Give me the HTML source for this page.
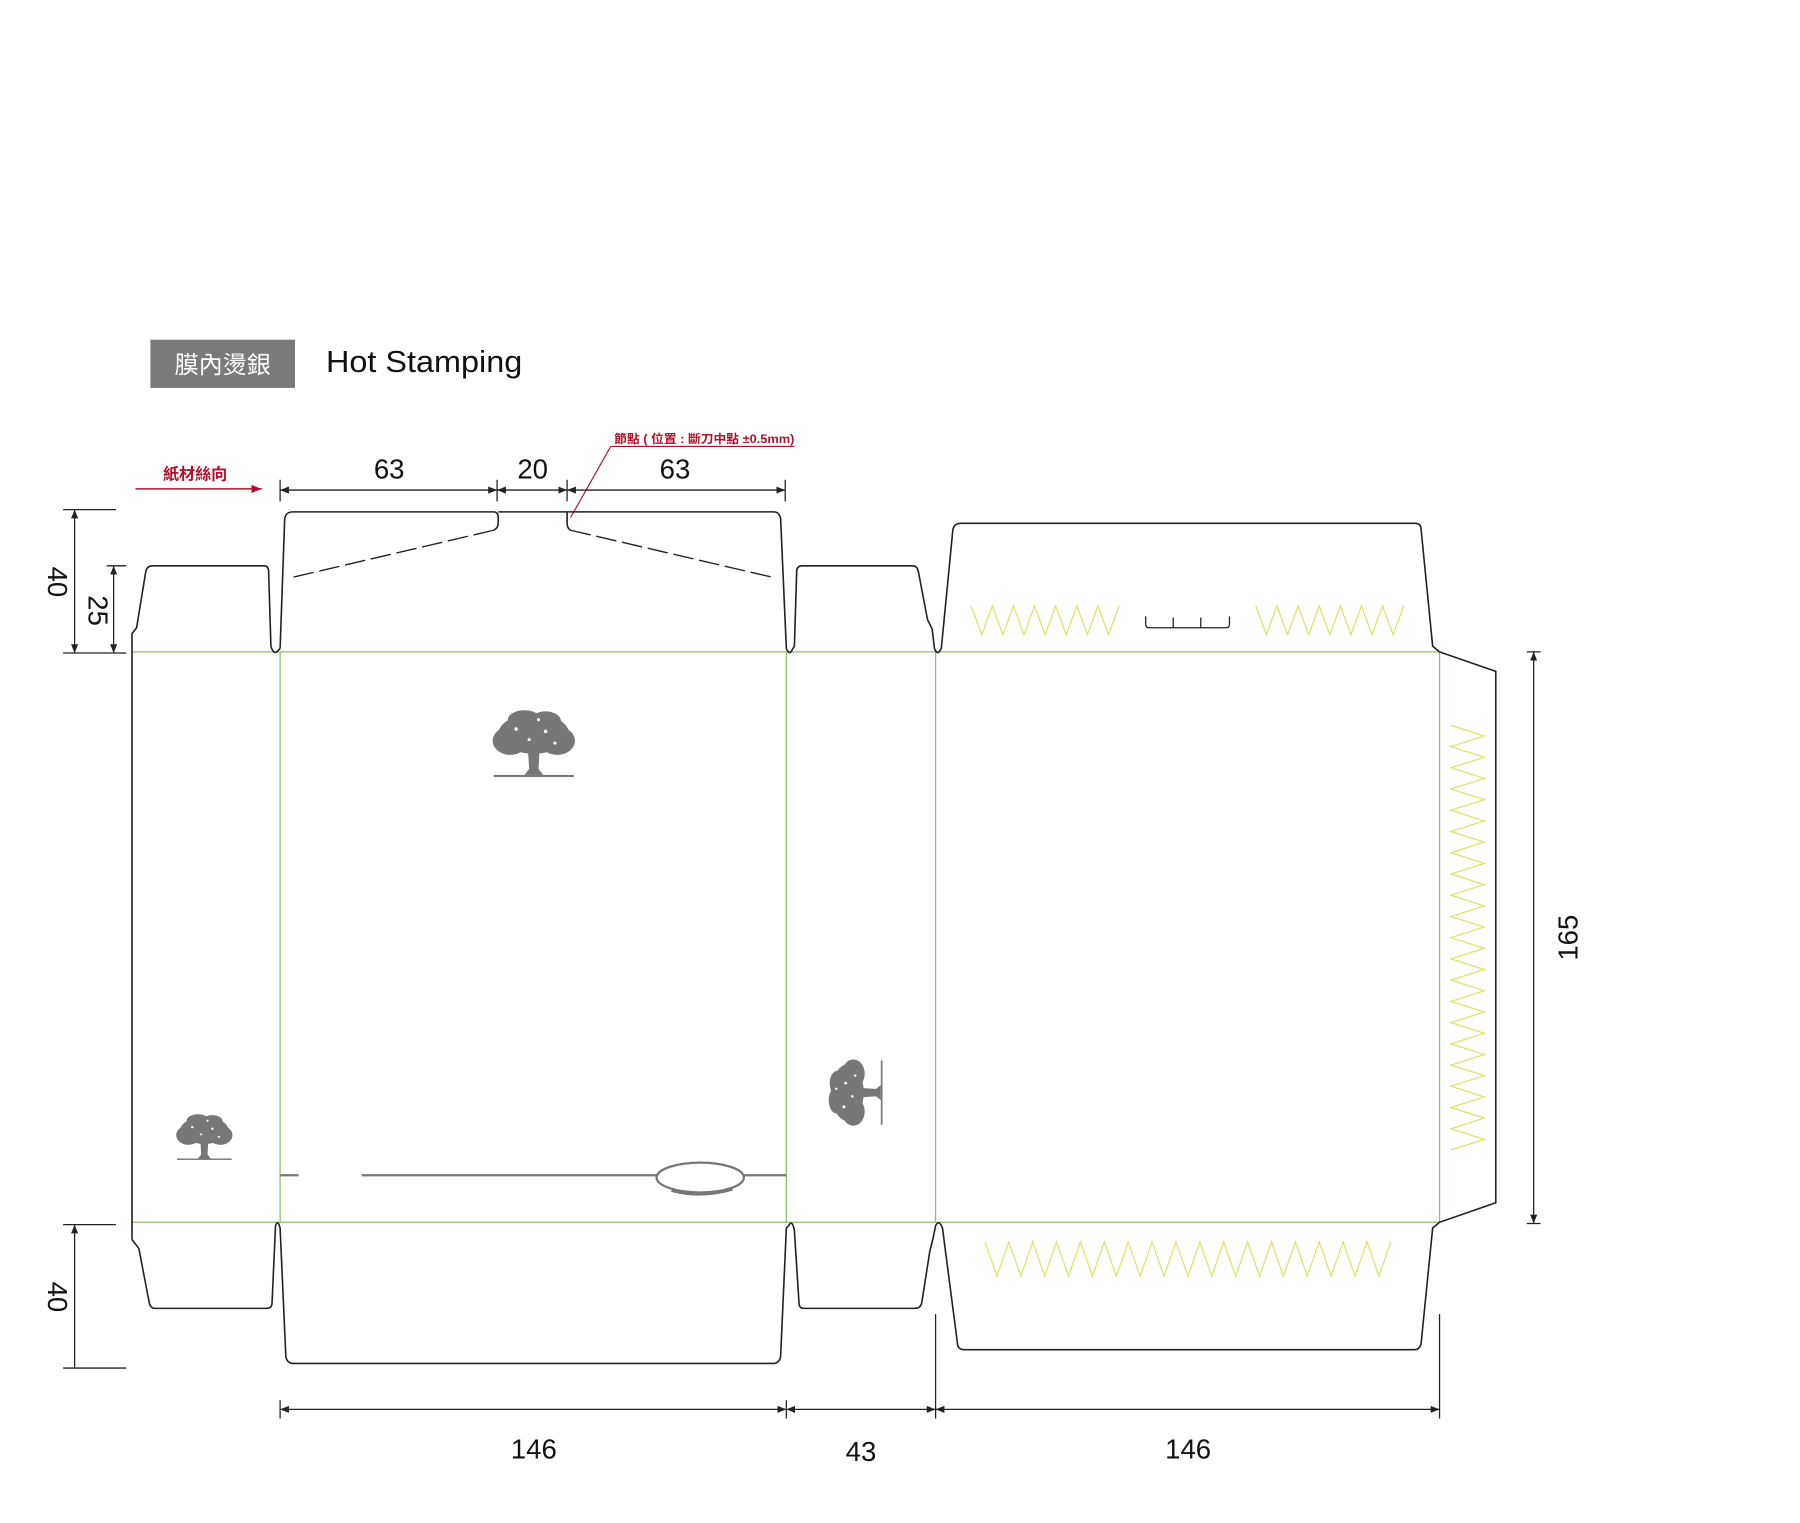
<!DOCTYPE html>
<html><head><meta charset="utf-8"><style>html,body{margin:0;padding:0;background:#fff}svg{display:block}</style></head>
<body>
<svg width="1800" height="1523" viewBox="0 0 1568 1327" preserveAspectRatio="none" xmlns="http://www.w3.org/2000/svg">
<defs>
<marker id="ar" viewBox="0 0 10 10" refX="10" refY="5" markerWidth="7" markerHeight="7" orient="auto-start-reverse"><path d="M0 1 L10 5 L0 9 Z" fill="#222"/></marker>
<marker id="arr" viewBox="0 0 10 10" refX="10" refY="5" markerWidth="7" markerHeight="7" orient="auto"><path d="M0 1 L10 5 L0 9 Z" fill="#b0122a"/></marker>
<symbol id="tree" viewBox="0 0 80 60">
<g fill="#777">
<ellipse cx="40" cy="22" rx="30" ry="17"/>
<ellipse cx="20" cy="28" rx="15" ry="12"/>
<ellipse cx="60" cy="28" rx="15" ry="12"/>
<ellipse cx="32" cy="10" rx="14" ry="8"/>
<ellipse cx="50" cy="11" rx="13" ry="8"/>
<path d="M35 34 L45 34 L44 52 L48 57 L32 57 L36 52 Z"/>
<rect x="6" y="57" width="68" height="1.8"/>
</g>
<g fill="#fff"><circle cx="25" cy="18" r="1.5"/><circle cx="50" cy="20" r="1.5"/><circle cx="36" cy="27" r="1.3"/><circle cx="58" cy="30" r="1.3"/><circle cx="44" cy="10" r="1.3"/></g>
</symbol>
</defs>

<rect x="131" y="296" width="126" height="42" fill="#7a7a7a"/>
<text x="194" y="325" font-family="Liberation Sans, Noto Sans CJK TC, sans-serif" font-size="21" fill="#fff" text-anchor="middle">膜內燙銀</text>
<text x="284" y="324" font-family="Liberation Sans, sans-serif" font-size="27" fill="#111" textLength="171" lengthAdjust="spacingAndGlyphs">Hot Stamping</text>

<text x="535" y="386" font-family="Liberation Sans, Noto Sans CJK TC, sans-serif" font-size="10.5" font-weight="bold" fill="#b0122a" textLength="157" lengthAdjust="spacingAndGlyphs">節點 ( 位置 : 斷刀中點 ±0.5mm)</text>
<path d="M532 389 L692 389 M532 389 L497 451" stroke="#b0122a" stroke-width="1" fill="none"/>

<text x="142" y="418" font-family="Liberation Sans, Noto Sans CJK TC, sans-serif" font-size="14" font-weight="bold" fill="#b0122a">紙材絲向</text>
<line x1="118" y1="426" x2="228" y2="426" stroke="#b0122a" stroke-width="1.3" marker-end="url(#arr)"/>

<g font-family="Liberation Sans, sans-serif" font-size="24" fill="#111" text-anchor="middle">
<text x="339" y="417">63</text><text x="464" y="417">20</text><text x="588" y="417">63</text>
<text x="465" y="1271">146</text><text x="750" y="1273">43</text><text x="1035" y="1271">146</text>
<text transform="translate(42 507) rotate(90)">40</text>
<text transform="translate(77 532) rotate(90)">25</text>
<text transform="translate(42 1130) rotate(90)">40</text>
<text transform="translate(1374 817) rotate(-90)">165</text>
</g>

<g stroke="#222" stroke-width="1.1" fill="none">
<line x1="244" y1="427" x2="433" y2="427" marker-start="url(#ar)" marker-end="url(#ar)"/>
<line x1="433" y1="427" x2="494" y2="427" marker-start="url(#ar)" marker-end="url(#ar)"/>
<line x1="494" y1="427" x2="684" y2="427" marker-start="url(#ar)" marker-end="url(#ar)"/>
<path d="M244 418V437 M433 418V437 M494 418V437 M684 418V437"/>
<line x1="65" y1="444" x2="65" y2="569" marker-start="url(#ar)" marker-end="url(#ar)"/>
<line x1="99" y1="493" x2="99" y2="569" marker-start="url(#ar)" marker-end="url(#ar)"/>
<path d="M55 444H101 M93 493H110 M55 569H110"/>
<line x1="65" y1="1067" x2="65" y2="1192" marker-start="url(#ar)"/>
<path d="M55 1067H101 M55 1192H110"/>
<line x1="244" y1="1228" x2="685" y2="1228" marker-start="url(#ar)" marker-end="url(#ar)"/>
<line x1="685" y1="1228" x2="815" y2="1228" marker-start="url(#ar)" marker-end="url(#ar)"/>
<line x1="815" y1="1228" x2="1254" y2="1228" marker-start="url(#ar)" marker-end="url(#ar)"/>
<path d="M244 1220V1236 M685 1220V1236 M815 1145V1236 M1254 1145V1236"/>
<line x1="1336" y1="568" x2="1336" y2="1066" marker-start="url(#ar)" marker-end="url(#ar)"/>
<path d="M1330 568H1342 M1330 1066H1342"/>
</g>

<g stroke="#8fbf6a" stroke-width="1.1" fill="none">
<path d="M115 568H1254 M115 1065H1254 M244 568V1065 M685 568V1065 M815 568V1065 M1254 568V1065"/>
</g>

<g stroke="#222" stroke-width="1.4" fill="none" stroke-linejoin="round">
<path d="M115 1080V552 L119 547 L127 498 Q128 493 133 493 L230 493 Q234 493 234 498 L236 563 Q238 570 241 568 L244 565"/>
<path d="M244 565 L248 452 Q249 446 255 446 L430 446 Q434 446 434 451 L434 456 Q434 460 430 462 M434 446 H494 M494 446 V456 Q494 460 497 462 M494 446 L674 446 Q679 446 680 452 L685 565 Q687 570 689 568 L692 563 L694 498 Q694 493 699 493 L795 493 Q799 493 800 498 L808 540 L812 548 L814 565 Q816 570 818 568 L820 565 L830 462 Q831 456 837 456 L1233 456 Q1238 456 1238 462 L1248 563 L1254 568 L1303 585 V1048 L1254 1065 L1248 1070 L1238 1170 Q1237 1176 1232 1176 L840 1176 Q834 1176 834 1170 L821 1070 Q818 1062 815 1068 L813 1078 L810 1090 L803 1135 Q802 1140 797 1140 L700 1140 Q696 1140 696 1135 L692 1072 Q690 1062 687 1068 L685 1070 L680 1182 Q679 1188 673 1188 L256 1188 Q250 1188 249 1182 L244 1070 Q242 1062 240 1068 L237 1135 Q237 1140 232 1140 L135 1140 Q131 1140 130 1135 L121 1088 L115 1080"/>
<path d="M998 537 V544 Q998 547 1001 547 L1068 547 Q1071 547 1071 544 V537 M1022 538 V547 M1046 538 V547" stroke-width="1.1"/>
</g>
<g stroke="#222" stroke-width="1.2" fill="none" stroke-dasharray="18 5">
<path d="M430 462 L255 503"/><path d="M497 462 L673 503"/>
</g>

<g stroke="#e2e070" stroke-width="1.1" fill="none">
<path d="M846 528 l9.2 25 l9.2 -25 l9.2 25 l9.2 -25 l9.2 25 l9.2 -25 l9.2 25 l9.2 -25 l9.2 25 l9.2 -25 l9.2 25 l9.2 -25 l9.2 25 l9.2 -25"/>
<path d="M1094 528 l9.2 25 l9.2 -25 l9.2 25 l9.2 -25 l9.2 25 l9.2 -25 l9.2 25 l9.2 -25 l9.2 25 l9.2 -25 l9.2 25 l9.2 -25 l9.2 25 l9.2 -25"/>
<path d="M858 1082 l10.4 30 l10.4 -30 l10.4 30 l10.4 -30 l10.4 30 l10.4 -30 l10.4 30 l10.4 -30 l10.4 30 l10.4 -30 l10.4 30 l10.4 -30 l10.4 30 l10.4 -30 l10.4 30 l10.4 -30 l10.4 30 l10.4 -30 l10.4 30 l10.4 -30 l10.4 30 l10.4 -30 l10.4 30 l10.4 -30 l10.4 30 l10.4 -30 l10.4 30 l10.4 -30 l10.4 30 l10.4 -30 l10.4 30 l10.4 -30 l10.4 30 l10.4 -30"/>
<path d="M1264 632 l29 9.25 l-29 9.25 l29 9.25 l-29 9.25 l29 9.25 l-29 9.25 l29 9.25 l-29 9.25 l29 9.25 l-29 9.25 l29 9.25 l-29 9.25 l29 9.25 l-29 9.25 l29 9.25 l-29 9.25 l29 9.25 l-29 9.25 l29 9.25 l-29 9.25 l29 9.25 l-29 9.25 l29 9.25 l-29 9.25 l29 9.25 l-29 9.25 l29 9.25 l-29 9.25 l29 9.25 l-29 9.25 l29 9.25 l-29 9.25 l29 9.25 l-29 9.25 l29 9.25 l-29 9.25 l29 9.25 l-29 9.25 l29 9.25 l-29 9.25"/>
</g>

<g stroke="#777" stroke-width="2" fill="none">
<path d="M244 1024 H260 M315 1024 H572 M648 1024 H685"/>
<ellipse cx="610" cy="1026" rx="38" ry="13"/>
<path d="M585 1037 Q610 1044 638 1036" stroke-width="3"/>
</g>

<use href="#tree" x="424" y="616" width="82" height="63"/>
<use href="#tree" x="150" y="968" width="56" height="45"/>
<g transform="translate(745 952) rotate(-90)"><use href="#tree" x="-33" y="-25" width="66" height="50"/></g>
</svg>
</body></html>
